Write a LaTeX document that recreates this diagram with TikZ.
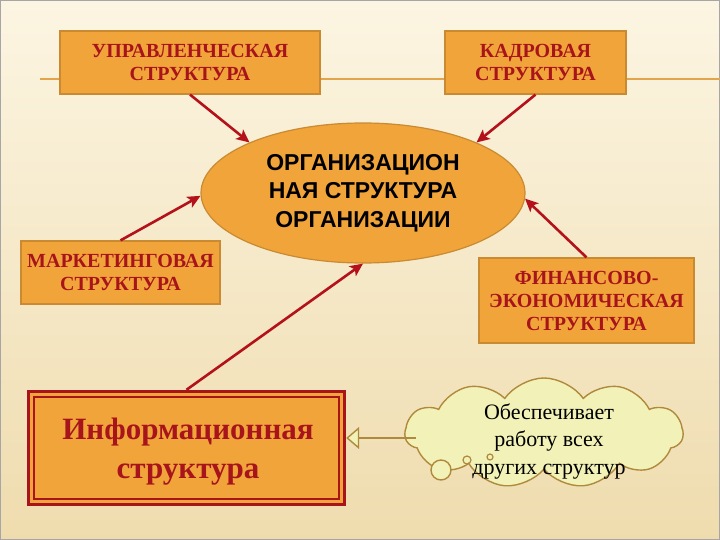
\documentclass[tikz,border=0pt]{standalone}
\usepackage{fontspec}
\setmainfont{Liberation Serif}
\newfontfamily\ellfont{Liberation Sans}
\usetikzlibrary{shapes.geometric,shapes.symbols,arrows.meta}
\definecolor{bgtop}{HTML}{FCF5E2}
\definecolor{bgbot}{HTML}{EFDCAE}
\definecolor{boxfill}{HTML}{F1A43A}
\definecolor{boxline}{HTML}{C98A32}
\definecolor{dred}{HTML}{A8141B}
\definecolor{arrred}{HTML}{B3121B}
\definecolor{cloudfill}{HTML}{F2F2B8}
\definecolor{cloudline}{HTML}{B08A3C}
\definecolor{hline}{HTML}{E3A54C}
\tikzset{
  sbox/.style={draw=boxline, line width=1.2pt, fill=boxfill, align=center, text=dred,
    font=\bfseries\fontsize{20}{23}\selectfont, inner sep=0pt},
  conn/.style={draw=arrred, line width=2.6pt, -{Stealth[length=13pt,width=12pt,inset=3pt]}},
}
\begin{document}
\begin{tikzpicture}[x=1pt,y=-1pt]
\useasboundingbox (0,0) rectangle (720,540);
\shade[top color=bgtop, bottom color=bgbot] (0,0) rectangle (720,540);
\draw[gray!70, line width=1pt] (0.5,0.5) rectangle (719.5,539.5);
\draw[hline, line width=2pt] (40,79) -- (720,79);
% boxes
\node[sbox, minimum width=260pt, minimum height=63pt] (u) at (190,62.5) {УПРАВЛЕНЧЕСКАЯ\\СТРУКТУРА};
\node[sbox, minimum width=181pt, minimum height=63pt] (k) at (535.5,62.5) {КАДРОВАЯ\\СТРУКТУРА};
\node[sbox, minimum width=199pt, minimum height=63pt] (m) at (120.5,272.5) {МАРКЕТИНГОВАЯ\\СТРУКТУРА};
\node[sbox, minimum width=215pt, minimum height=85pt] (f) at (586.5,300.5) {ФИНАНСОВО-\\ЭКОНОМИЧЕСКАЯ\\СТРУКТУРА};
\node[ellipse, draw=boxline, line width=1.2pt, fill=boxfill, minimum width=324pt, minimum height=140pt, inner sep=0pt,
  align=center, font=\ellfont\bfseries\fontsize{23}{28.5}\selectfont] (e) at (363,193) {ОРГАНИЗАЦИОН\\НАЯ СТРУКТУРА\\ОРГАНИЗАЦИИ};
% information box
\node[fill=boxfill, minimum width=319pt, minimum height=116pt, inner sep=0pt] (i) at (186.5,448) {};
\draw[dred, line width=3pt] ([shift={(1.5pt,1.5pt)}]i.south west) rectangle ([shift={(-1.5pt,-1.5pt)}]i.north east);
\draw[dred, line width=1.6pt] ([shift={(7pt,7pt)}]i.south west) rectangle ([shift={(-7pt,-7pt)}]i.north east);
\node[align=center, text=dred, font=\bfseries\fontsize{31}{39}\selectfont] (it) at (188,452) {Информационная\\структура};
% cloud
\node[cloud, cloud puffs=11, cloud puff arc=110, aspect=2.5, draw=cloudline, line width=1.4pt, fill=cloudfill,
  minimum width=278pt, minimum height=110pt, inner sep=0pt] (c) at (544,433) {};
\node[align=center, font=\fontsize{22}{27.5}\selectfont] (ct) at (549,441) {Обеспечивает\\работу всех\\других структур};
\draw[cloudline, line width=1.4pt, fill=cloudfill] (441,470) circle (10pt);
\draw[cloudline, line width=1.2pt] (467,460) circle (4pt);
\draw[cloudline, line width=1.2pt] (490,457) circle (3pt);
\coordinate (cs) at (416,438);
% connectors
\draw[conn] (u.south) -- (e.156);
\draw[conn] (k.south) -- (e.24);
\draw[conn] (m.north) -- (e.181);
\draw[conn] (f.north) -- (e.358);
\draw[conn] (i.north) -- (e.270);
\draw[cloudline, line width=2.6pt, -{Triangle[open, length=13pt, width=22pt, fill=cloudfill, line width=1.4pt]}] (cs) -- (cs -| i.east);
\end{tikzpicture}
\end{document}
